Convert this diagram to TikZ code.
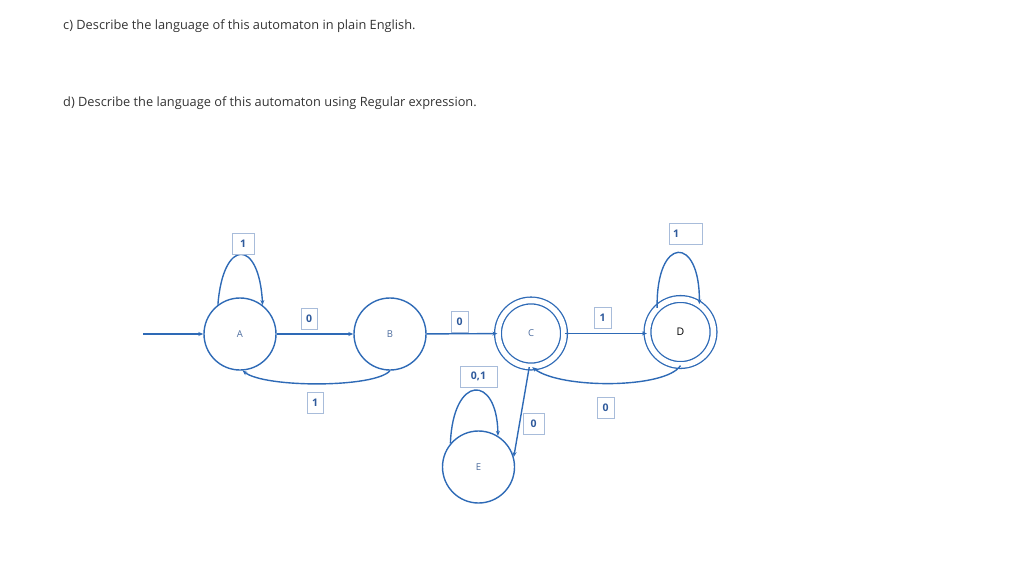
\documentclass[tikz,border=0pt]{standalone}
\usepackage{fontspec}
\setmainfont{Open Sans}
\usetikzlibrary{arrows.meta}
\definecolor{ln}{HTML}{2E6AB6}
\definecolor{lt}{HTML}{2F5A9C}
\definecolor{lb}{HTML}{A8BCDA}
\definecolor{st}{HTML}{4C6C9E}
\definecolor{tx}{HTML}{333333}
\tikzset{
  x=1pt,y=-1pt,
  state/.style={circle,draw=ln,line width=1.4pt,minimum size=72pt,inner sep=0pt,text=st,font=\fontsize{9.5}{10}\selectfont},
  acc/.style={state,double=white,double distance=5.5pt,line width=1.3pt,minimum size=66pt},
  lbl/.style={draw=lb,line width=0.9pt,fill=white,text=lt,minimum height=21pt,inner sep=0pt,font=\fontsize{10.5}{11}\selectfont\bfseries},
  tr/.style={draw=ln,line width=1.4pt,-{Stealth[length=5pt,width=4pt]}},
  qtext/.style={anchor=base west,text=tx,inner sep=0pt,font=\fontsize{12.8}{14}\selectfont}
}
\begin{document}
\begin{tikzpicture}
\useasboundingbox (0,0) rectangle (1024,563);
\node[qtext] (qc) at (63,29) {c) Describe the language of this automaton in plain English.};
\node[qtext] (qd) at (63,106) {d) Describe the language of this automaton using Regular expression.};

\node[state] (A) at (240,334) {A};
\node[state] (B) at (390,334) {B};
\node[acc] (C) at (531,333.5) {C};
\node[acc,text=black,font=\fontsize{10.5}{11}\selectfont] (D) at (680.5,332) {D};
\node[state] (E) at (478.5,467) {E};

\coordinate (init) at (143,334);
\draw[tr] (init) -- (A);
\draw[tr] (A) -- (B);
\draw[tr] (B) -- (C);
\draw[tr] (C.east) -- (D.west |- C.east);
\draw[tr] (A.127) .. controls (223,238) and (259,238) .. (A.52);
\draw[tr] (D.134) .. controls (656,235) and (700,235) .. (D.56);
\draw[tr] (E.140) .. controls (453,374) and (497,374) .. (E.58);
\draw[tr] (B.-90) .. controls (375,388) and (265,388) .. (A.-86);
\draw[tr] (D.-90) .. controls (665,389) and (560,389) .. (C.-88);
\draw[tr] (C.-93) -- (E.16);

\node[lbl,minimum width=22pt] (lA) at (243,243.5) {1};
\node[lbl,minimum width=16pt] (lAB) at (309,318.5) {0};
\node[lbl,minimum width=16pt] (lBA) at (315,402.5) {1};
\node[lbl,minimum width=17pt] (lBC) at (459.5,321.5) {0};
\node[lbl,minimum width=17pt] (lCD) at (602.5,317.5) {1};
\node[lbl,minimum width=37pt] (lE) at (478.5,376.5) {0,1};
\node[lbl,minimum width=21pt] (lCE) at (533.5,424) {0};
\node[lbl,minimum width=17pt] (lDC) at (605.5,407.5) {0};
\node[lbl,text width=25pt,inner xsep=4pt,align=left] (lD) at (685.5,233.5) {1};
\end{tikzpicture}
\end{document}
